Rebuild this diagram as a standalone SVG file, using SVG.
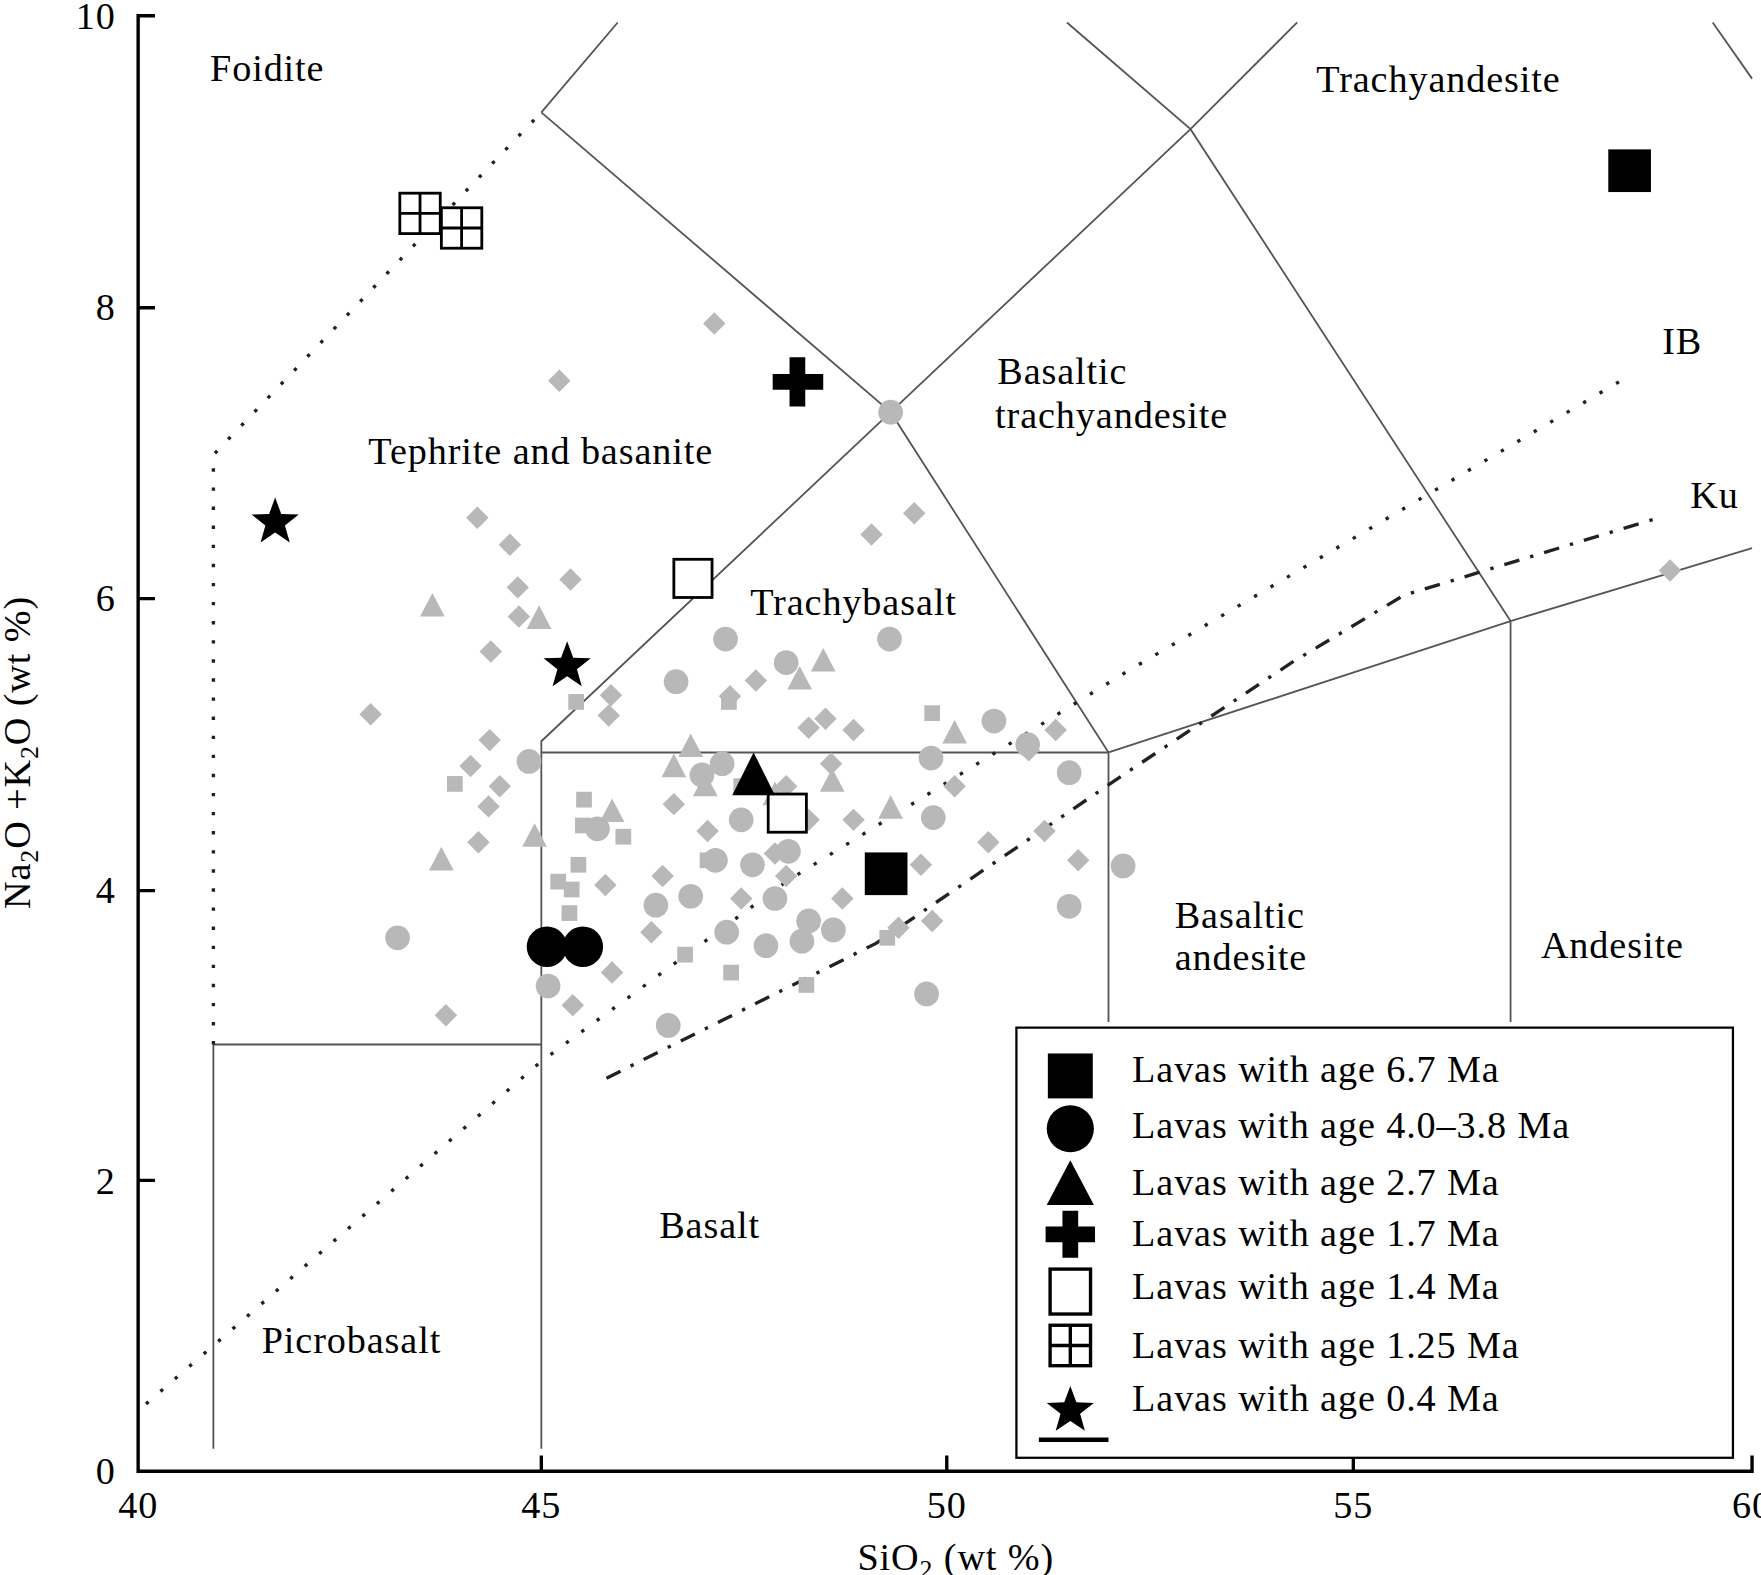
<svg xmlns="http://www.w3.org/2000/svg" width="1761" height="1575" viewBox="0 0 1761 1575">
<style>
text{font-family:"Liberation Serif","Times New Roman",serif;font-size:34px;letter-spacing:0.8px;fill:#000}
.b{fill:none;stroke:#555;stroke-width:1.6}
.ax{fill:none;stroke:#000;stroke-width:3}
.dot{fill:none;stroke:#222;stroke-width:3;stroke-dasharray:3 14}
.dd{fill:none;stroke:#222;stroke-width:3;stroke-dasharray:14 10 3 10}
.g{fill:#b8b8b8}
</style>
<defs>
<path id="d" d="M0-10L10 0 0 10-10 0Z"/>
<circle id="c" r="11"/>
<path id="t" d="M0-12L11 9H-11Z"/>
<rect id="s" x="-7" y="-7" width="14" height="14"/>
<path id="star" d="M0-22L5.4-7.4 21-6.8 8.7 2.9 13 18 0 9.2-13 18-8.7 2.9-21-6.8-5.4-7.4Z"/>
<g id="grid"><rect x="-18" y="-18" width="36" height="36" fill="#fff" stroke="#000" stroke-width="2.5"/><path d="M0-18V18M-18 0H18" stroke="#000" stroke-width="2.5"/></g>
</defs>
<rect width="1761" height="1575" fill="#fff"/>
<g transform="scale(1.1231)">
<g id="axes">
<path class="ax" d="M138 14H123V1310H1560V1296M123 274H138M123 533H138M123 793H138M123 1051H138M482 1310V1296M843 1310V1296M1205 1310V1296"/>
<text x="103" y="26" text-anchor="end">10</text>
<text x="103" y="285" text-anchor="end">8</text>
<text x="103" y="544" text-anchor="end">6</text>
<text x="103" y="804" text-anchor="end">4</text>
<text x="103" y="1063" text-anchor="end">2</text>
<text x="103" y="1321" text-anchor="end">0</text>
<text x="123" y="1352" text-anchor="middle">40</text>
<text x="482" y="1352" text-anchor="middle">45</text>
<text x="843" y="1352" text-anchor="middle">50</text>
<text x="1205" y="1352" text-anchor="middle">55</text>
<text x="1560" y="1352" text-anchor="middle">60</text>
<text x="851" y="1398" text-anchor="middle">SiO<tspan font-size="23" dy="7">2</tspan><tspan dy="-7"> (wt %)</tspan></text>
<text transform="translate(27,670) rotate(-90)" text-anchor="middle">Na<tspan font-size="23" dy="7">2</tspan><tspan dy="-7">O +K</tspan><tspan font-size="23" dy="7">2</tspan><tspan dy="-7">O (wt %)</tspan></text>
</g>
<g id="connectors">
<path class="b" d="M190 1290V930H482M482 1290V670H987V910M482 670V660L793 367 1060 115 1155 20M482 100L793 367 987 670 1345 553 1560 488M1345 553V910M482 100L550 20M950 20L1060 115 1345 553M1525 20L1560 70"/>
<path class="dot" d="M190 930V405L482 100"/>
<path class="dot" d="M130 1250L482 945 700 785 1000 600 1450 335"/>
<path class="dd" d="M540 960L780 840 1000 690 1150 590 1250 530 1480 460"/>
</g>
<g id="labels">
<text x="187" y="72">Foidite</text>
<text x="1172" y="82">Trachyandesite</text>
<text x="1480" y="315">IB</text>
<text x="1505" y="452">Ku</text>
<text x="888" y="342">Basaltic</text>
<text x="886" y="381">trachyandesite</text>
<text x="328" y="413">Tephrite and basanite</text>
<text x="668" y="548">Trachybasalt</text>
<text x="1046" y="826">Basaltic</text>
<text x="1046" y="864">andesite</text>
<text x="1372" y="853">Andesite</text>
<text x="587" y="1102">Basalt</text>
<text x="233" y="1205">Picrobasalt</text>
</g>
<g id="grey" class="g">
<use href="#d" x="636" y="288"/><use href="#d" x="498" y="339"/><use href="#d" x="425" y="461"/><use href="#d" x="454" y="485"/><use href="#d" x="461" y="523"/><use href="#d" x="462" y="549"/><use href="#d" x="508" y="516"/><use href="#d" x="437" y="580"/><use href="#d" x="330" y="636"/><use href="#d" x="544" y="619"/><use href="#d" x="542" y="637"/><use href="#d" x="436" y="659"/><use href="#d" x="419" y="682"/><use href="#d" x="435" y="718"/><use href="#d" x="426" y="750"/><use href="#d" x="445" y="700"/><use href="#d" x="397" y="904"/><use href="#d" x="510" y="895"/><use href="#d" x="545" y="866"/><use href="#d" x="539" y="788"/><use href="#d" x="776" y="476"/><use href="#d" x="814" y="457"/><use href="#d" x="673" y="606"/><use href="#d" x="600" y="716"/><use href="#d" x="720" y="648"/><use href="#d" x="735" y="640"/><use href="#d" x="760" y="650"/><use href="#d" x="740" y="680"/><use href="#d" x="720" y="730"/><use href="#d" x="690" y="760"/><use href="#d" x="660" y="800"/><use href="#d" x="700" y="780"/><use href="#d" x="750" y="800"/><use href="#d" x="800" y="826"/><use href="#d" x="830" y="820"/><use href="#d" x="880" y="750"/><use href="#d" x="930" y="740"/><use href="#d" x="960" y="766"/><use href="#d" x="940" y="650"/><use href="#d" x="916" y="668"/><use href="#d" x="1487" y="508"/><use href="#d" x="850" y="700"/><use href="#d" x="820" y="770"/><use href="#d" x="590" y="780"/><use href="#d" x="580" y="830"/><use href="#d" x="630" y="740"/><use href="#d" x="760" y="730"/><use href="#d" x="700" y="700"/><use href="#d" x="650" y="620"/>
<use href="#c" x="646" y="569"/><use href="#c" x="602" y="607"/><use href="#c" x="792" y="569"/><use href="#c" x="700" y="590"/><use href="#c" x="471" y="678"/><use href="#c" x="885" y="642"/><use href="#c" x="829" y="675"/><use href="#c" x="952" y="688"/><use href="#c" x="915" y="663"/><use href="#c" x="831" y="728"/><use href="#c" x="1000" y="771"/><use href="#c" x="952" y="807"/><use href="#c" x="825" y="885"/><use href="#c" x="595" y="913"/><use href="#c" x="488" y="878"/><use href="#c" x="584" y="806"/><use href="#c" x="615" y="798"/><use href="#c" x="647" y="830"/><use href="#c" x="682" y="842"/><use href="#c" x="714" y="838"/><use href="#c" x="742" y="828"/><use href="#c" x="690" y="800"/><use href="#c" x="720" y="820"/><use href="#c" x="670" y="770"/><use href="#c" x="637" y="766"/><use href="#c" x="660" y="730"/><use href="#c" x="643" y="680"/><use href="#c" x="625" y="690"/><use href="#c" x="532" y="738"/><use href="#c" x="702" y="758"/><use href="#c" x="354" y="835"/><use href="#c" x="793" y="367"/>
<use href="#t" x="385" y="540"/><use href="#t" x="480" y="551"/><use href="#t" x="393" y="766"/><use href="#t" x="476" y="745"/><use href="#t" x="545" y="723"/><use href="#t" x="600" y="683"/><use href="#t" x="615" y="665"/><use href="#t" x="712" y="605"/><use href="#t" x="733" y="589"/><use href="#t" x="741" y="696"/><use href="#t" x="793" y="720"/><use href="#t" x="850" y="653"/><use href="#t" x="628" y="700"/><use href="#t" x="690" y="708"/>
<use href="#s" x="513" y="625"/><use href="#s" x="405" y="698"/><use href="#s" x="520" y="712"/><use href="#s" x="519" y="735"/><use href="#s" x="497" y="785"/><use href="#s" x="509" y="792"/><use href="#s" x="515" y="770"/><use href="#s" x="507" y="813"/><use href="#s" x="520" y="840"/><use href="#s" x="649" y="625"/><use href="#s" x="651" y="866"/><use href="#s" x="718" y="877"/><use href="#s" x="830" y="635"/><use href="#s" x="610" y="850"/><use href="#s" x="630" y="766"/><use href="#s" x="790" y="835"/><use href="#s" x="555" y="745"/><use href="#s" x="660" y="700"/>
</g>
<g id="black">
<rect x="1432" y="133" width="38" height="38"/>
<rect x="770" y="759" width="38" height="38"/>
<circle cx="487" cy="843" r="18"/><circle cx="519" cy="843" r="18"/>
<path d="M671 670L690 708H652Z"/>
<path d="M703 318H717V333H733V347H717V362H703V347H688V333H703Z"/>
<rect x="600" y="498" width="34" height="34" fill="#fff" stroke="#000" stroke-width="2.5"/>
<rect x="684" y="707" width="34" height="34" fill="#fff" stroke="#000" stroke-width="2.5"/>
<use href="#grid" x="374" y="190"/><use href="#grid" x="411" y="203"/>
<use href="#star" x="245" y="465"/><use href="#star" x="505" y="593"/>
</g>
<g id="legend">
<rect x="905" y="915" width="638" height="383" fill="#fff" stroke="#000" stroke-width="2"/>
<rect x="933" y="938" width="40" height="40"/>
<circle cx="953" cy="1005" r="21"/>
<path d="M953 1033L974 1073H932Z"/>
<path d="M946 1078H960V1092H975V1106H960V1120H946V1106H931V1092H946Z"/>
<rect x="935" y="1130" width="36" height="40" fill="#fff" stroke="#000" stroke-width="3"/>
<rect x="935" y="1180" width="36" height="36" fill="#fff" stroke="#000" stroke-width="3"/><path d="M953 1180V1216M935 1198H971" stroke="#000" stroke-width="3"/>
<use href="#star" x="953" y="1256"/>
<path d="M925 1282H987" stroke="#000" stroke-width="4"/>
<text x="1008" y="963">Lavas with age 6.7 Ma</text>
<text x="1008" y="1013">Lavas with age 4.0–3.8 Ma</text>
<text x="1008" y="1064">Lavas with age 2.7 Ma</text>
<text x="1008" y="1109">Lavas with age 1.7 Ma</text>
<text x="1008" y="1157">Lavas with age 1.4 Ma</text>
<text x="1008" y="1209">Lavas with age 1.25 Ma</text>
<text x="1008" y="1256">Lavas with age 0.4 Ma</text>
</g>
</g>
</svg>
